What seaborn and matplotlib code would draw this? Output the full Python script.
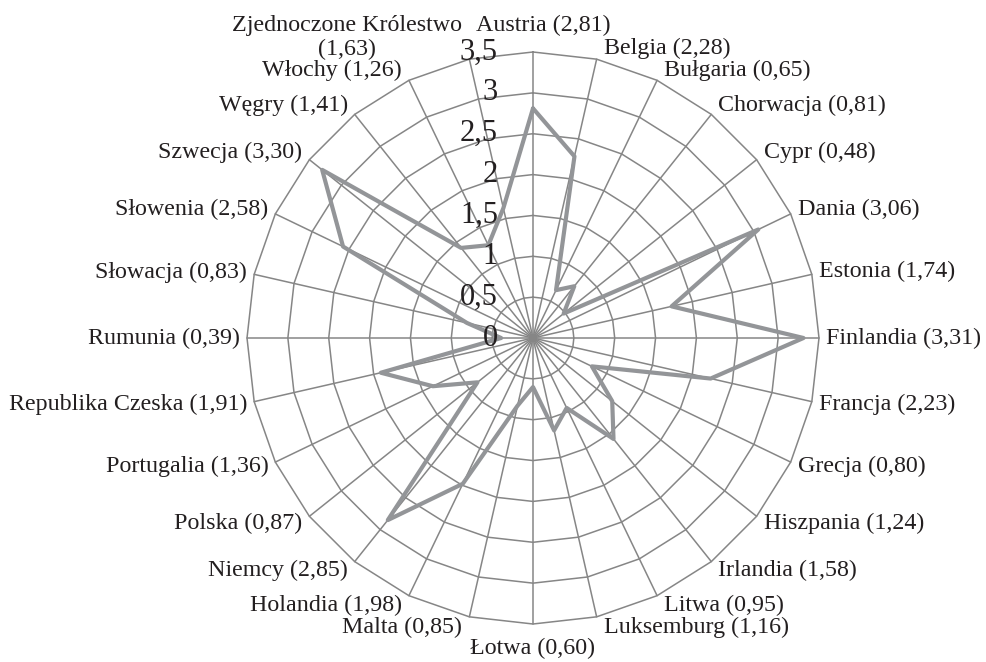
import numpy as np
import pandas as pd
import matplotlib
matplotlib.use("Agg")
import matplotlib.pyplot as plt
import seaborn as sns

# === Data ===
countries = [
    "Austria", "Belgia", "Bułgaria", "Chorwacja", "Cypr", "Dania", "Estonia",
    "Finlandia", "Francja", "Grecja", "Hiszpania", "Irlandia", "Litwa",
    "Luksemburg", "Łotwa", "Malta", "Holandia", "Niemcy", "Polska",
    "Portugalia", "Republika Czeska", "Rumunia", "Słowacja", "Słowenia",
    "Szwecja", "Węgry", "Włochy", "Zjednoczone Królestwo",
]
values = [
    2.81, 2.28, 0.65, 0.81, 0.48, 3.06, 1.74,
    3.31, 2.23, 0.80, 1.24, 1.58, 0.95,
    1.16, 0.60, 0.85, 1.98, 2.85, 0.87,
    1.36, 1.91, 0.39, 0.83, 2.58,
    3.30, 1.41, 1.26, 1.63,
]
r_ticks = [0, 0.5, 1, 1.5, 2, 2.5, 3, 3.5]
r_max = 3.5

sns.set_style("white")
plt.rcParams["font.family"] = ["Liberation Serif", "DejaVu Serif"]

GRID = "#868686"
LINE = "#939598"
TEXT = "#231f20"


def fmt(v):
    return f"{v:.2f}".replace(".", ",")


def tick_fmt(v):
    return (f"{v:g}").replace(".", ",")


def main():
    n = len(countries)
    theta = np.arange(n) * 2 * np.pi / n

    df = pd.DataFrame({
        "country": countries + countries[:1],
        "value": values + values[:1],
        "theta": np.append(theta, theta[0]),
    })
    df["x"] = df["value"] * np.sin(df["theta"])
    df["y"] = df["value"] * np.cos(df["theta"])

    W, H, dpi = 987, 662, 100
    cx, cy, rad = 533, 338, 286
    s = rad / r_max  # pixels per unit

    fig = plt.figure(figsize=(W / dpi, H / dpi), dpi=dpi)
    ax = fig.add_axes([0, 0, 1, 1])
    ax.set_xlim(-cx / s, (W - cx) / s)
    ax.set_ylim(-(H - cy) / s, cy / s)
    ax.axis("off")

    # polygon grid rings and spokes
    ring_t = np.append(theta, theta[0])
    for lvl in r_ticks[1:]:
        ax.plot(lvl * np.sin(ring_t), lvl * np.cos(ring_t),
                color=GRID, lw=1.1, zorder=1)
    for t in theta:
        ax.plot([0, r_max * np.sin(t)], [0, r_max * np.cos(t)],
                color=GRID, lw=1.1, zorder=1)

    # data line
    sns.lineplot(data=df, x="x", y="y", sort=False, estimator=None,
                 color=LINE, lw=3.0, ax=ax, zorder=3)
    ax.set_xlabel("")
    ax.set_ylabel("")

    # radial tick labels
    for lvl in r_ticks:
        ax.text(-35 / s, lvl, tick_fmt(lvl), ha="right", va="center",
                fontsize=22, color=TEXT, zorder=4)

    # category labels
    for name, v, t in zip(countries, values, theta):
        label = f"{name} ({fmt(v)})"
        if len(label) > 24:
            label = f"{name}\n({fmt(v)})"
        nl = label.count("\n") + 1
        sn, cs = np.sin(t), np.cos(t)
        pt = (r_max * sn, r_max * cs)
        if abs(sn) < 0.05:
            # straight up / down
            va = "bottom" if cs > 0 else "top"
            off = (10, 16) if cs > 0 else (0, -14)
            ha = "center"
        else:
            ha = "left" if sn > 0 else "right"
            va = "center"
            off = (7 * np.sign(sn), 11 * nl * cs)
        ax.annotate(label, xy=pt, xytext=off, textcoords="offset pixels",
                    ha=ha, va=va, multialignment="center",
                    fontsize=17.3, color=TEXT)

    fig.savefig("out.png", dpi=dpi)


if __name__ == "__main__":
    main()
